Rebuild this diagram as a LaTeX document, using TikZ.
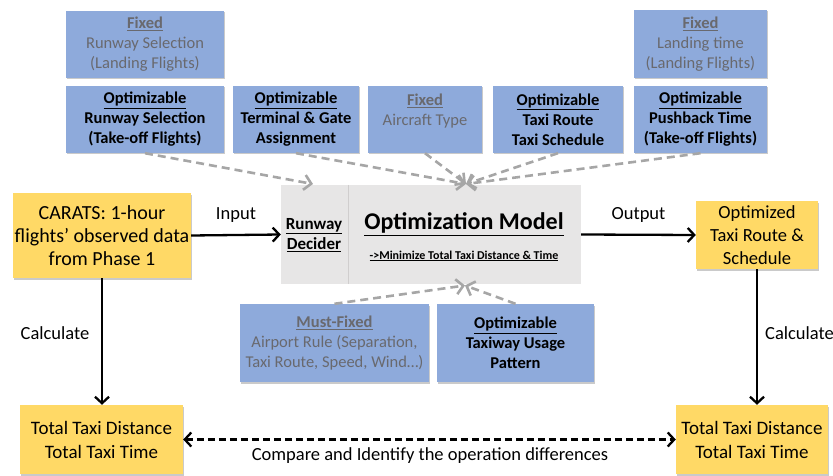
\documentclass[tikz,border=0pt]{standalone}
\usepackage{fontspec}
\setmainfont{Carlito}
\usetikzlibrary{arrows.meta,shadows}
\definecolor{boxblue}{RGB}{142,170,219}
\definecolor{boxyellow}{RGB}{255,217,102}
\definecolor{modelgray}{RGB}{231,230,230}
\definecolor{divgray}{RGB}{208,206,206}
\definecolor{fixedtext}{RGB}{105,105,110}
\definecolor{dashgray}{RGB}{166,166,166}
\newcommand{\fixhead}{{\bfseries\underline{Fixed}}}
\newcommand{\opthead}{{\bfseries\underline{Optimizable}}}
\tikzset{
  shad/.style={drop shadow={shadow xshift=1pt,shadow yshift=-1.5pt,opacity=0.35,fill=black!60}},
  bluebox/.style={fill=boxblue, align=center, inner sep=0pt, shad,
    font=\fontsize{16.5}{20}\selectfont},
  fixbox/.style={bluebox, text=fixedtext},
  optbox/.style={bluebox, text=black},
  yelbox/.style={fill=boxyellow, align=center, inner sep=0pt, shad,
    font=\fontsize{20}{23}\selectfont},
  outbox/.style={yelbox, font=\fontsize{18.5}{23}\selectfont},
  totbox/.style={yelbox, font=\fontsize{19}{24}\selectfont},
  lbl/.style={font=\fontsize{18.5}{20}\selectfont, inner sep=0pt},
  blackarrow/.style={line width=2.3pt, -{Straight Barb[length=6.5pt,width=14pt,line width=2.3pt]}},
  blackdash/.style={line width=2.3pt, dash pattern=on 7pt off 4pt,
    {Straight Barb[length=6.5pt,width=14pt,line width=2.3pt]}-{Straight Barb[length=6.5pt,width=14pt,line width=2.3pt]}},
  grayarrow/.style={draw=dashgray, line width=2.6pt, dash pattern=on 8pt off 5pt,
    -{Straight Barb[length=7pt,width=15pt,line width=2.6pt]}},
}
\begin{document}
\begin{tikzpicture}[x=1pt,y=-1pt]
\useasboundingbox (0,0) rectangle (833,476);
% top boxes
\node[fixbox, minimum width=158pt, minimum height=67pt] (fixRwy) at (145,44.5)
  {\fixhead\\Runway Selection\\(Landing Flights)};
\node[optbox, minimum width=158pt, minimum height=67pt] (optRwy) at (145,119.5)
  {\opthead\\\bfseries Runway Selection\\\bfseries (Take-off Flights)};
\node[optbox, minimum width=126pt, minimum height=67pt] (optGate) at (296,119.5)
  {\opthead\\\bfseries Terminal \& Gate\\\bfseries Assignment};
\node[fixbox, minimum width=114pt, minimum height=67pt] (fixAc) at (425,119.5)
  {\fixhead\\Aircraft Type\\\mbox{}};
\node[optbox, minimum width=130pt, minimum height=67pt] (optTaxi) at (558,119.5)
  {\opthead\\\bfseries Taxi Route\\\bfseries Taxi Schedule};
\node[optbox, minimum width=133pt, minimum height=67pt] (optPush) at (700.5,119.5)
  {\opthead\\\bfseries Pushback Time\\\bfseries (Take-off Flights)};
\node[fixbox, minimum width=133pt, minimum height=68pt] (fixLand) at (700.5,44)
  {\fixhead\\Landing time\\(Landing Flights)};
% model
\node[fill=modelgray, minimum width=300pt, minimum height=99pt, inner sep=0pt] (model) at (431,234.5) {};
\draw[divgray, line width=0.8pt] (348,185) -- (348,284);
\node[font=\fontsize{17}{20}\selectfont\bfseries, align=center, inner sep=0pt] (rd) at (314,235)
  {\underline{Runway}\\\underline{Decider}};
\node[font=\fontsize{24}{28}\selectfont\bfseries, inner sep=0pt] (title) at (464,224)
  {\underline{Optimization Model}};
\node[font=\fontsize{12}{14}\selectfont\bfseries, inner sep=0pt] (sub) at (464,256)
  {\underline{->Minimize Total Taxi Distance \& Time}};
% yellow boxes
\node[yelbox, minimum width=178pt, minimum height=85pt] (carats) at (102,235.5)
  {CARATS: 1-hour\\flights’ observed data\\from Phase 1};
\node[outbox, minimum width=122pt, minimum height=68pt] (optOut) at (757,235)
  {Optimized\\Taxi Route \&\\Schedule};
\node[totbox, minimum width=163pt, minimum height=69pt] (totL) at (101.5,439.5)
  {Total Taxi Distance\\Total Taxi Time};
\node[totbox, minimum width=152pt, minimum height=69pt] (totR) at (752,439.5)
  {Total Taxi Distance\\Total Taxi Time};
% bottom blue boxes
\node[fixbox, minimum width=189pt, minimum height=78pt] (mustFix) at (334.5,343)
  {{\bfseries\underline{Must-Fixed}}\\Airport Rule (Separation,\\Taxi Route, Speed, Wind…)};
\node[optbox, minimum width=157pt, minimum height=78pt] (optTw) at (515.5,343)
  {\opthead\\\bfseries Taxiway Usage\\\bfseries Pattern};
% gray dashed arrows
\coordinate (tipL) at (313,184);
\coordinate (tipT) at (466,184);
\coordinate (tipB) at (465,285.5);
\draw[grayarrow] (optRwy.south) -- (tipL);
\draw[grayarrow] (optGate.south) -- (tipT);
\draw[grayarrow] (fixAc.south) -- (tipT);
\draw[grayarrow] (optTaxi.south) -- (tipT);
\draw[grayarrow] (optPush.south) -- (tipT);
\draw[grayarrow] (mustFix.north) -- (tipB);
\draw[grayarrow] (optTw.north) -- (tipB);
% black arrows
\draw[blackarrow] (carats.east) -- (model.west) node[lbl, midway, above=11pt] (lin) {Input};
\draw[blackarrow] (model.east) -- (optOut.west) node[lbl, midway, above=11pt] (lout) {Output};
\draw[blackarrow] (carats.south) -- (carats.south |- totL.north);
\draw[blackarrow] (optOut.south) -- (optOut.south |- totR.north);
\draw[blackdash] (totL.east) -- (totR.west);
\node[lbl] (calcL) at (55,333) {Calculate};
\node[lbl, anchor=west] (calcR) at (765,333) {Calculate};
\node[lbl] (cmp) at (430,456) {Compare and Identify the operation differences};
\end{tikzpicture}
\end{document}
